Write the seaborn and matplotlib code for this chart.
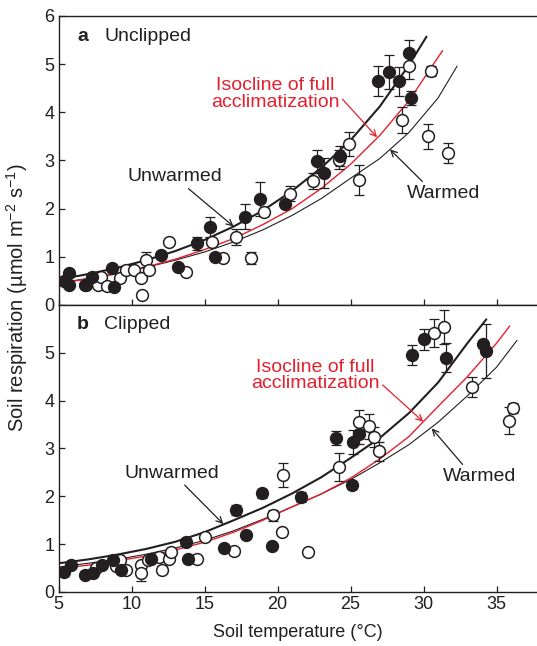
import numpy as np
import pandas as pd
import matplotlib.pyplot as plt
import seaborn as sns

# --- panel a (unclipped) points: x, y, error ---
a_unw_x = [5.4, 5.75, 5.75, 6.8, 7.3, 8.65, 8.8, 12.0, 13.2, 14.45, 15.4, 15.7, 17.8, 18.8,
           20.5, 22.7, 23.2, 24.25, 26.9, 27.6, 28.3, 29.0, 29.15]
a_unw_y = [0.5, 0.66, 0.42, 0.42, 0.59, 0.76, 0.37, 1.04, 0.78, 1.28, 1.62, 1.0, 1.83, 2.2,
           2.1, 2.98, 2.74, 3.09, 4.65, 4.83, 4.64, 5.24, 4.3]
a_unw_e = [0, 0, 0, 0, 0, 0, 0, 0, 0, 0.14, 0.21, 0, 0.26, 0.35,
           0, 0.24, 0.31, 0.2, 0.31, 0.35, 0.31, 0.26, 0.14]

a_wrm_x = [6.9, 7.7, 7.9, 8.3, 9.2, 9.6, 10.2, 10.66, 11.0, 10.73, 11.2, 12.6, 13.75, 15.5,
           16.25, 17.17, 18.2, 19.04, 20.87, 22.4, 24.2, 24.9, 25.6, 28.5, 28.97, 30.5, 30.3, 31.7]
a_wrm_y = [0.42, 0.42, 0.59, 0.4, 0.55, 0.73, 0.73, 0.55, 0.94, 0.21, 0.73, 1.3, 0.69, 1.31,
           0.97, 1.41, 0.97, 1.94, 2.31, 2.57, 3.02, 3.35, 2.6, 3.84, 4.97, 4.86, 3.5, 3.16]
a_wrm_e = [0, 0, 0, 0, 0, 0, 0, 0, 0.15, 0, 0, 0, 0, 0,
           0, 0.17, 0.12, 0, 0.15, 0.17, 0.2, 0.25, 0.31, 0.28, 0.28, 0.1, 0.26, 0.21]

# --- panel b (clipped) points ---
b_unw_x = [5.37, 5.87, 6.78, 7.35, 8.0, 8.7, 9.3, 11.35, 13.75, 13.86, 16.3, 17.17, 17.86, 18.93,
           19.6, 21.6, 24.0, 25.1, 25.2, 25.6, 29.18, 30.0, 31.55, 34.1, 34.25]
b_unw_y = [0.42, 0.56, 0.35, 0.4, 0.56, 0.67, 0.46, 0.7, 1.05, 0.7, 0.93, 1.71, 1.19, 2.06,
           0.96, 1.99, 3.22, 2.24, 3.13, 3.3, 4.96, 5.28, 4.9, 5.19, 5.04]
b_unw_e = [0, 0, 0, 0, 0, 0, 0, 0, 0.08, 0, 0, 0.1, 0, 0.1,
           0, 0.1, 0.15, 0.08, 0.25, 0.2, 0.21, 0.22, 0.3, 0, 0.57]

b_wrm_x = [7.58, 8.95, 9.18, 9.63, 10.66, 10.66, 11.1, 11.9, 12.1, 12.6, 12.7, 14.47, 15.0, 16.99,
           19.68, 20.3, 20.4, 22.08, 24.2, 25.6, 26.25, 26.6, 26.94, 30.7, 31.37, 33.3, 35.84, 36.16]
b_wrm_y = [0.51, 0.55, 0.67, 0.46, 0.56, 0.39, 0.67, 0.74, 0.47, 0.7, 0.84, 0.68, 1.14, 0.86,
           1.6, 1.26, 2.44, 0.84, 2.61, 3.55, 3.46, 3.24, 2.94, 5.42, 5.54, 4.29, 3.58, 3.85]
b_wrm_e = [0, 0, 0, 0, 0, 0.17, 0, 0, 0.08, 0, 0, 0, 0, 0,
           0.12, 0, 0.25, 0, 0.3, 0.25, 0.26, 0.2, 0.2, 0.29, 0.35, 0.21, 0.28, 0.1]

# --- fitted curves ---
a_unw_cx = [5, 7, 9, 11, 13, 15, 17, 19, 21, 23, 25, 27, 29, 30.2]
a_unw_cy = [0.53, 0.64, 0.77, 0.93, 1.12, 1.35, 1.63, 1.96, 2.37, 2.85, 3.42, 4.12, 4.98, 5.57]
a_iso_cx = [5, 7, 9, 11, 13, 15, 17, 19, 21, 23, 25, 27, 29, 31.3]
a_iso_cy = [0.45, 0.54, 0.65, 0.79, 0.95, 1.15, 1.38, 1.67, 2.0, 2.42, 2.92, 3.52, 4.24, 5.28]
a_wrm_cx = [5, 7, 9, 11, 13, 15, 17, 19, 21, 23, 25, 27, 29, 31, 32.3]
a_wrm_cy = [0.46, 0.55, 0.65, 0.78, 0.93, 1.1, 1.31, 1.56, 1.86, 2.21, 2.63, 3.04, 3.58, 4.3, 4.96]

b_unw_cx = [5, 7, 9, 11, 13, 15, 17, 19, 21, 23, 25, 27, 29, 31, 33, 34.3]
b_unw_cy = [0.6, 0.68, 0.78, 0.9, 1.05, 1.25, 1.5, 1.76, 2.06, 2.4, 2.8, 3.22, 3.74, 4.38, 5.2, 5.7]
b_iso_cx = [5, 7, 9, 11, 13, 15, 17, 19, 21, 23, 25, 27, 29, 31, 33, 35, 35.9]
b_iso_cy = [0.49, 0.56, 0.65, 0.75, 0.88, 1.04, 1.25, 1.5, 1.78, 2.05, 2.38, 2.78, 3.25, 3.88, 4.5, 5.2, 5.56]
b_wrm_cx = [5, 7, 9, 11, 13, 15, 17, 19, 21, 23, 25, 27, 29, 31, 33, 35, 36.4]
b_wrm_cy = [0.52, 0.6, 0.68, 0.79, 0.92, 1.08, 1.28, 1.52, 1.78, 2.05, 2.35, 2.7, 3.08, 3.55, 4.1, 4.7, 5.26]

RED = '#e5202e'
INK = '#231f20'
FS_TICK = 13
FS_NOTE = 14

sns.set_style('ticks')
plt.rcParams['font.family'] = ['Liberation Sans', 'DejaVu Sans']
plt.rcParams['font.size'] = FS_TICK
plt.rcParams['mathtext.fontset'] = 'custom'
plt.rcParams['mathtext.rm'] = 'Liberation Sans'

fig = plt.figure(figsize=(5.37, 6.46), dpi=100)
ax_a = fig.add_axes([0.109, 0.5279, 0.891, 0.4474])
ax_b = fig.add_axes([0.109, 0.0836, 0.891, 0.4443])


def draw_panel(ax, unw, wrm, curves):
    # curves
    for cx, cy, col, lw in curves:
        sns.lineplot(x=cx, y=cy, ax=ax, color=col, lw=lw, zorder=2)
    # error bars + markers
    for (x, y, e), face in ((wrm, 'white'), (unw, INK)):
        df = pd.DataFrame({'x': x, 'y': y, 'e': e})
        eb = df[df['e'] > 0]
        ax.errorbar(eb['x'], eb['y'], yerr=eb['e'], fmt='none', ecolor=INK,
                    elinewidth=0.9, capsize=3.3, capthick=0.9, zorder=3)
        sns.scatterplot(data=df, x='x', y='y', ax=ax, s=72, color=face,
                        edgecolor=INK, linewidth=1.1, zorder=4)


draw_panel(ax_a, (a_unw_x, a_unw_y, a_unw_e), (a_wrm_x, a_wrm_y, a_wrm_e),
           [(a_wrm_cx, a_wrm_cy, INK, 0.8), (a_iso_cx, a_iso_cy, RED, 1.0),
            (a_unw_cx, a_unw_cy, INK, 1.5)])
draw_panel(ax_b, (b_unw_x, b_unw_y, b_unw_e), (b_wrm_x, b_wrm_y, b_wrm_e),
           [(b_wrm_cx, b_wrm_cy, INK, 0.8), (b_iso_cx, b_iso_cy, RED, 1.0),
            (b_unw_cx, b_unw_cy, INK, 1.5)])

for ax in (ax_a, ax_b):
    ax.set_xlim(5, 37.77)
    ax.set_ylim(0, 6)
    ax.set_xticks([5, 10, 15, 20, 25, 30, 35])
    ax.tick_params(direction='in', length=4, width=0.9, color=INK, labelcolor=INK,
                   labelsize=FS_TICK, pad=3)
    ax.spines['right'].set_visible(False)
    for s in ('left', 'top', 'bottom'):
        ax.spines[s].set_linewidth(1.0)
        ax.spines[s].set_color(INK)
    ax.set_xlabel('')
    ax.set_ylabel('')

ax_a.set_yticks([0, 1, 2, 3, 4, 5, 6])
ax_a.tick_params(labelbottom=False)
ax_b.set_yticks([0, 1, 2, 3, 4, 5])
ax_b.set_xlabel('Soil temperature (\u00b0C)', color=INK, fontsize=FS_TICK, labelpad=8)
fig.text(0.032, 0.539, 'Soil respiration (\u00b5mol m$^{\u22122}$ s$^{\u22121}$)', rotation=90,
         ha='center', va='center', color=INK, fontsize=14.5)

# panel titles
ax_a.text(6.27, 5.57, 'a', fontweight='bold', fontsize=FS_NOTE, color=INK, va='center')
ax_a.text(8.12, 5.57, 'Unclipped', fontsize=FS_NOTE, color=INK, va='center')
ax_b.text(6.27, 5.6, 'b', fontweight='bold', fontsize=FS_NOTE, color=INK, va='center')
ax_b.text(8.12, 5.6, 'Clipped', fontsize=FS_NOTE, color=INK, va='center')

arrow_k = dict(arrowstyle='->', lw=0.9, shrinkA=0, shrinkB=0, mutation_scale=11)

# panel a annotations
ax_a.annotate('Isocline of full\nacclimatization', xy=(26.82, 3.48), xytext=(19.83, 4.38),
              ha='center', va='center', color=RED, fontsize=FS_NOTE, linespacing=0.95,
              arrowprops=dict(color=RED, relpos=(1.0, 0.45), **arrow_k))
ax_a.annotate('Unwarmed', xy=(16.99, 1.63), xytext=(12.98, 2.66), ha='center', va='center',
              color=INK, fontsize=FS_NOTE,
              arrowprops=dict(color=INK, relpos=(0.6, 0.0), **arrow_k))
ax_a.annotate('Warmed', xy=(27.7, 3.23), xytext=(31.4, 2.32), ha='center', va='center',
              color=INK, fontsize=FS_NOTE,
              arrowprops=dict(color=INK, relpos=(0.25, 1.0), **arrow_k))

# panel b annotations
ax_b.annotate('Isocline of full\nacclimatization', xy=(29.98, 3.56), xytext=(22.57, 4.53),
              ha='center', va='center', color=RED, fontsize=FS_NOTE, linespacing=0.95,
              arrowprops=dict(color=RED, relpos=(1.0, 0.3), **arrow_k))
ax_b.annotate('Unwarmed', xy=(16.29, 1.42), xytext=(12.77, 2.48), ha='center', va='center',
              color=INK, fontsize=FS_NOTE,
              arrowprops=dict(color=INK, relpos=(0.6, 0.0), **arrow_k))
ax_b.annotate('Warmed', xy=(30.56, 3.42), xytext=(33.87, 2.42), ha='center', va='center',
              color=INK, fontsize=FS_NOTE,
              arrowprops=dict(color=INK, relpos=(0.3, 1.0), **arrow_k))

fig.savefig('out.png', dpi=100)
